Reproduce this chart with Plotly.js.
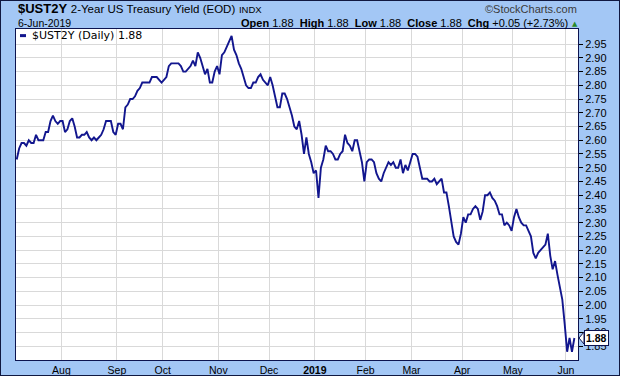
<!DOCTYPE html>
<html>
<head>
<meta charset="utf-8">
<script src="https://cdn.plot.ly/plotly-3.0.1.min.js"></script>
<style>
  html, body { margin: 0; padding: 0; background: #a3c7f5; }
  #frame { width: 620px; height: 376px; box-sizing: border-box; border: 1px solid #101840; background: #a3c7f5; }
  #chart { width: 618px; height: 374px; }
</style>
</head>
<body>
<div id="frame"><div id="chart"></div></div>
<script>
// ---- Data: $UST2Y daily close, Jul 5 2018 .. Jun 6 2019, grouped by month ----
const monthLabels = ['Jul', 'Aug', 'Sep', 'Oct', 'Nov', 'Dec', '2019', 'Feb', 'Mar', 'Apr', 'May', 'Jun'];
const jul = [2.53, 2.57, 2.59, 2.59, 2.58, 2.60, 2.59, 2.59, 2.62, 2.60, 2.60, 2.60, 2.63, 2.63, 2.67, 2.69, 2.67, 2.66, 2.67];
const aug = [2.67, 2.63, 2.64, 2.67, 2.68, 2.65, 2.61, 2.61, 2.62, 2.62, 2.63, 2.61, 2.60, 2.61, 2.60, 2.61, 2.62, 2.64, 2.67, 2.67, 2.67, 2.63, 2.62];
const sep = [2.66, 2.66, 2.64, 2.72, 2.73, 2.75, 2.75, 2.76, 2.78, 2.79, 2.81, 2.81, 2.81, 2.81, 2.83, 2.83, 2.83, 2.82, 2.81];
const oct = [2.82, 2.83, 2.87, 2.88, 2.88, 2.88, 2.88, 2.87, 2.85, 2.85, 2.86, 2.87, 2.89, 2.87, 2.92, 2.90, 2.87, 2.84, 2.86, 2.81, 2.81, 2.85, 2.87];
const nov = [2.84, 2.91, 2.92, 2.94, 2.96, 2.98, 2.93, 2.91, 2.88, 2.86, 2.83, 2.80, 2.79, 2.79, 2.81, 2.81, 2.83, 2.84, 2.82, 2.81, 2.80];
const dec = [2.83, 2.80, 2.76, 2.72, 2.72, 2.77, 2.77, 2.75, 2.72, 2.69, 2.65, 2.64, 2.67, 2.62, 2.55, 2.61, 2.55, 2.52, 2.48];
const jan = [2.49, 2.39, 2.50, 2.53, 2.58, 2.56, 2.56, 2.55, 2.53, 2.53, 2.55, 2.56, 2.62, 2.59, 2.58, 2.56, 2.60, 2.60, 2.56, 2.52, 2.45];
const feb = [2.52, 2.53, 2.53, 2.52, 2.48, 2.46, 2.45, 2.48, 2.50, 2.52, 2.51, 2.52, 2.50, 2.50, 2.53, 2.48, 2.51, 2.49, 2.52];
const mar = [2.55, 2.55, 2.54, 2.50, 2.46, 2.46, 2.46, 2.45, 2.45, 2.46, 2.44, 2.45, 2.46, 2.41, 2.41, 2.36, 2.30, 2.25, 2.23, 2.22, 2.26];
const apr = [2.32, 2.30, 2.33, 2.33, 2.35, 2.36, 2.35, 2.31, 2.34, 2.40, 2.40, 2.41, 2.39, 2.38, 2.36, 2.33, 2.33, 2.29, 2.30, 2.29, 2.27];
const may = [2.32, 2.35, 2.32, 2.30, 2.29, 2.29, 2.27, 2.25, 2.19, 2.17, 2.19, 2.20, 2.21, 2.22, 2.26, 2.18, 2.13, 2.16, 2.11, 2.07, 2.02, 1.93];
const jun = [1.83, 1.88, 1.83, 1.88];
const yTicks = [1.85, 1.90, 1.95, 2.00, 2.05, 2.10, 2.15, 2.20, 2.25, 2.30, 2.35, 2.40, 2.45, 2.50, 2.55, 2.60, 2.65, 2.70, 2.75, 2.80, 2.85, 2.90, 2.95];
const symbol = '$UST2Y';
const titleText = '2-Year US Treasury Yield (EOD)';
const exchangeText = 'INDX';
const dateText = '6-Jun-2019';
const statLabels = ['Open', 'High', 'Low', 'Close'];
const statValues = ['1.88', '1.88', '1.88', '1.88'];
const chgText = '+0.05 (+2.73%)';

// ---- Build series ----
const months = [jul, aug, sep, oct, nov, dec, jan, feb, mar, apr, may, jun];
const yVals = [];
const tickVals = [];
const tickText = [];
months.forEach((m, k) => {
  if (k > 0) {
    tickVals.push(yVals.length - 0.5);
    tickText.push(monthLabels[k] === '2019' ? '<b>2019</b>' : monthLabels[k]);
  }
  m.forEach(v => yVals.push(v));
});
const xVals = yVals.map((_, i) => i);
const last = yVals[yVals.length - 1];

const NAVY = '#0c1450';
const LINE = '#12168e';
const GRID = '#d9d9d9';

const statHtml = statLabels.map((l, i) => '<b>' + l + '</b> ' + statValues[i]).join('  ') + '  <b>Chg</b> ' + chgText;

const trace = {
  x: xVals, y: yVals, type: 'scatter', mode: 'lines',
  line: { color: LINE, width: 1.9 }, hoverinfo: 'skip', showlegend: false
};

const layout = {
  width: 618, height: 374,
  margin: { l: 15, r: 41, t: 28, b: 15, pad: 0 },
  paper_bgcolor: '#a3c7f5', plot_bgcolor: '#ffffff',
  showlegend: false,
  xaxis: {
    type: 'linear', range: [-0.3, 232.5],
    tickmode: 'array', tickvals: tickVals, ticktext: tickText,
    showgrid: true, gridcolor: GRID, gridwidth: 1,
    zeroline: false, showline: true, mirror: true, linecolor: NAVY, linewidth: 1,
    ticks: '', tickfont: { family: 'Liberation Sans, Arial, sans-serif', size: 10.5, color: '#000' }
  },
  yaxis: {
    side: 'right', range: [1.80, 3.005],
    tickmode: 'array', tickvals: yTicks, ticktext: yTicks.map(v => v.toFixed(2)),
    showgrid: true, gridcolor: GRID, gridwidth: 1,
    zeroline: false, showline: true, mirror: true, linecolor: NAVY, linewidth: 1,
    ticks: 'outside', ticklen: 4, tickcolor: '#000', tickwidth: 1,
    tickfont: { family: 'Liberation Sans, Arial, sans-serif', size: 11, color: '#000' }
  },
  shapes: [
    { type: 'line', xref: 'paper', yref: 'paper', x0: 0.0071, x1: 0.0178, y0: 0.980, y1: 0.980,
      line: { color: LINE, width: 3 } },
    { type: 'path', xref: 'paper', yref: 'y', xsizemode: 'pixel', ysizemode: 'pixel',
      xanchor: 1, yanchor: last, path: 'M 1 0 L 6 6 L 6 -6 Z',
      fillcolor: '#ffffff', line: { color: NAVY, width: 1 } }
  ],
  annotations: [
    { xref: 'paper', yref: 'paper', x: 0, y: 1.0605, xanchor: 'left', yanchor: 'middle', showarrow: false,
      text: '<b>' + symbol + '</b> <span style="font-size:11.5px">' + titleText + '</span> <span style="font-size:9.5px">' + exchangeText + '</span>',
      font: { family: 'Liberation Sans, Arial, sans-serif', size: 13, color: '#000' } },
    { xref: 'paper', yref: 'paper', x: 1.0018, y: 1.0605, xanchor: 'right', yanchor: 'middle', showarrow: false,
      text: '©StockCharts.com', font: { family: 'Liberation Sans, Arial, sans-serif', size: 11, color: '#3a3a3a' } },
    { xref: 'paper', yref: 'paper', x: 0, y: 1.018, xanchor: 'left', yanchor: 'middle', showarrow: false,
      text: dateText, font: { family: 'Liberation Sans, Arial, sans-serif', size: 10.5, color: '#000' } },
    { xref: 'paper', yref: 'paper', x: 0.9858, y: 1.018, xanchor: 'right', yanchor: 'middle', showarrow: false,
      text: statHtml, font: { family: 'Liberation Sans, Arial, sans-serif', size: 11, color: '#000' } },
    { xref: 'paper', yref: 'paper', x: 0.9947, y: 1.016, xanchor: 'center', yanchor: 'middle', showarrow: false,
      text: '▲', font: { family: 'DejaVu Sans, sans-serif', size: 7, color: '#2a8a2a' } },
    { xref: 'paper', yref: 'paper', x: 0.0249, y: 0.980, xanchor: 'left', yanchor: 'middle', showarrow: false,
      text: symbol + ' (Daily) ' + last.toFixed(2),
      font: { family: 'DejaVu Sans, Verdana, sans-serif', size: 11, color: '#000' } },
    { xref: 'paper', yref: 'y', x: 1, xshift: 6, y: last, xanchor: 'left', yanchor: 'middle', showarrow: false,
      text: '<b>' + last.toFixed(2) + '</b>', bgcolor: '#ffffff', bordercolor: NAVY, borderwidth: 1, borderpad: 1,
      font: { family: 'Liberation Sans, Arial, sans-serif', size: 10.5, color: '#000' } }
  ]
};

Plotly.newPlot('chart', [trace], layout, { staticPlot: true, displayModeBar: false });
</script>
</body>
</html>
